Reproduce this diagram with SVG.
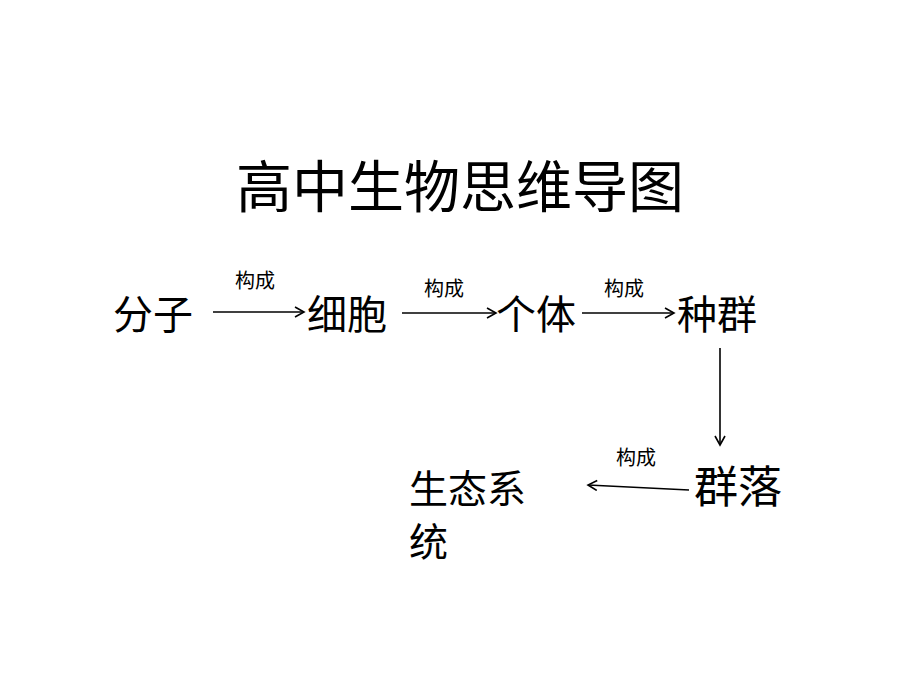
<svg xmlns="http://www.w3.org/2000/svg" width="920" height="690" viewBox="0 0 920 690">
<defs>
<marker id="arr" markerWidth="12" markerHeight="12" refX="10" refY="6" orient="auto" markerUnits="userSpaceOnUse">
<path d="M1,1 L10,6 L1,11" fill="none" stroke="#000" stroke-width="1.6"/>
</marker>
<style>
text{font-family:"Noto Sans CJK SC","Noto Sans CJK JP",sans-serif;fill:#000}
.title{font-size:56px}
.node{font-size:40px}
.lbl{font-size:20px}
.conn line{stroke:#000;stroke-width:1.6;marker-end:url(#arr)}
</style>
</defs>
<rect width="920" height="690" fill="#fff"/>
<text class="title" x="460" y="207" text-anchor="middle">高中生物思维导图</text>
<g id="n-fenzi"><text class="node" x="113" y="329">分子</text></g>
<g id="n-xibao"><text class="node" x="307" y="329">细胞</text></g>
<g id="n-geti"><text class="node" x="496" y="329">个体</text></g>
<g id="n-zhongqun"><text class="node" x="677" y="329">种群</text></g>
<g id="n-qunluo"><text class="node" x="694" y="503" style="font-size:44px">群落</text></g>
<g id="n-shengtai"><text class="node" x="409" y="503" style="font-size:39px">生态系</text><text class="node" x="409" y="556" style="font-size:39px">统</text></g>
<g id="connectors" class="conn">
<line x1="213" y1="312" x2="304" y2="312"/>
<line x1="402" y1="313" x2="496" y2="313"/>
<line x1="582" y1="313" x2="674" y2="313"/>
<line x1="720" y1="348" x2="720" y2="445"/>
<line x1="689" y1="490" x2="588" y2="485"/>
<text class="lbl" x="235" y="288">构成</text>
<text class="lbl" x="424" y="296">构成</text>
<text class="lbl" x="604" y="296">构成</text>
<text class="lbl" x="616" y="465">构成</text>
</g>
</svg>
